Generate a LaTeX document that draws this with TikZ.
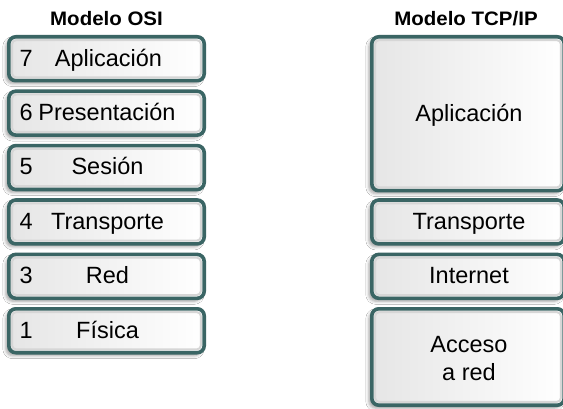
\documentclass[tikz,border=0pt]{standalone}
\usepackage{fontspec}
\setmainfont{Liberation Sans}
\newfontfamily\titlefont[FakeStretch=1.05]{Liberation Sans}
\usetikzlibrary{shadows.blur}
\definecolor{bordc}{HTML}{3A6564}
\definecolor{txtc}{HTML}{000000}
\tikzset{
 layerbox/.style={draw=bordc, line width=3.6pt, rounded corners=7pt,
   left color=black!10, right color=white, inner sep=0pt,
   blur shadow={shadow xshift=-3pt, shadow yshift=-3pt, shadow blur radius=3pt, shadow opacity=35},
   path picture={\draw[black!16, line width=2pt, rounded corners=4pt]
     ([shift={(3.3pt,3.3pt)}]path picture bounding box.south west) rectangle
     ([shift={(-3.3pt,-3.3pt)}]path picture bounding box.north east);}},
 osibox/.style={layerbox, minimum width=195.4pt, minimum height=43.9pt},
 tcpbox/.style={layerbox, minimum width=192.4pt},
 lbl/.style={font=\fontsize{23.5}{27.5}\selectfont, text=txtc, inner sep=0pt},
 ttl/.style={font=\titlefont\bfseries\fontsize{19.5}{22}\selectfont, text=txtc, inner sep=0pt}
}
\begin{document}
\begin{tikzpicture}[x=1pt,y=-1pt]
\useasboundingbox[fill=white] (0,0) rectangle (563,409);
% titles
\node[ttl, anchor=base] (tosi) at (106.5,25.5) {Modelo OSI};
\node[ttl, anchor=base] (ttcp) at (466,26) {Modelo TCP/IP};
% OSI boxes
\node[osibox] (o7) at (106.5,58.75) {};
\node[osibox] (o6) at (106.5,113.15) {};
\node[osibox] (o5) at (106.5,167.55) {};
\node[osibox] (o4) at (106.5,221.95) {};
\node[osibox] (o3) at (106.5,276.35) {};
\node[osibox] (o1) at (106.5,330.75) {};
% OSI numbers
\foreach \b/\n in {o7/7,o6/6,o5/5,o4/4,o3/3,o1/1}{
  \node[lbl, anchor=base west] (n\b) at ([xshift=12.5pt,yshift=-7.3pt]\b.center -| \b.west) {\n};
}
% OSI labels
\node[lbl, anchor=base] (l7) at ([xshift=2pt,yshift=-7.3pt]o7.center) {Aplicación};
\node[lbl, anchor=base] (l6) at ([xshift=0.5pt,yshift=-7.3pt]o6.center) {Presentación};
\node[lbl, anchor=base] (l5) at ([xshift=1pt,yshift=-7.3pt]o5.center) {Sesión};
\node[lbl, anchor=base] (l4) at ([xshift=1pt,yshift=-7.3pt]o4.center) {Transporte};
\node[lbl, anchor=base] (l3) at ([xshift=1pt,yshift=-7.3pt]o3.center) {Red};
\node[lbl, anchor=base] (l1) at ([xshift=1pt,yshift=-7.3pt]o1.center) {Física};
% TCP/IP boxes
\node[tcpbox, minimum height=153.9pt] (ta) at (468,113.75) {};
\node[tcpbox, minimum height=43.9pt] (tt) at (468,221.95) {};
\node[tcpbox, minimum height=43.9pt] (ti) at (468,276.35) {};
\node[tcpbox, minimum height=96.4pt] (tr) at (468,357) {};
% TCP/IP labels
\node[lbl, anchor=base] (la) at ([xshift=1pt,yshift=-7.3pt]ta.center) {Aplicación};
\node[lbl, anchor=base] (lt) at ([xshift=1pt,yshift=-7.3pt]tt.center) {Transporte};
\node[lbl, anchor=base] (li) at ([xshift=1pt,yshift=-7.3pt]ti.center) {Internet};
\node[lbl, anchor=north, align=center] (lr) at (469,336.5) {Acceso\\a red};
\end{tikzpicture}
\end{document}
